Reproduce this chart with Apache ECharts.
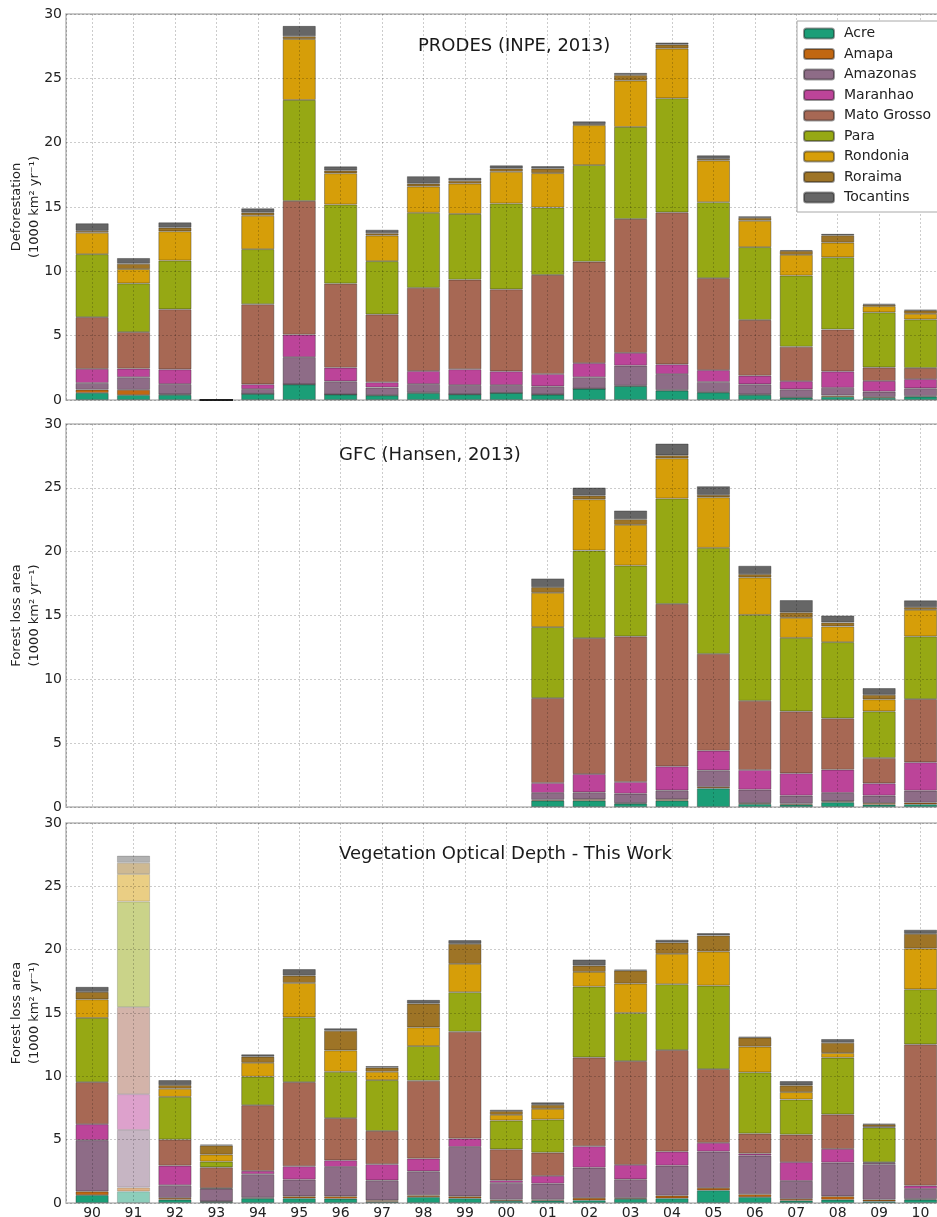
<!DOCTYPE html>
<html>
<head>
<meta charset="utf-8">
<script src="https://cdn.jsdelivr.net/npm/echarts@6/dist/echarts.min.js"></script>
<style>
html, body { margin: 0; padding: 0; background: #fff; }
#chart { width: 937px; height: 1217px; }
</style>
</head>
<body>
<div id="chart"></div>
<script>
var years = ['90','91','92','93','94','95','96','97','98','99','00','01','02','03','04','05','06','07','08','09','10'];
var states = ['Acre','Amapa','Amazonas','Maranhao','Mato Grosso','Para','Rondonia','Roraima','Tocantins'];
var yTicks = [0, 5, 10, 15, 20, 25, 30];

// PRODES (INPE, 2013), 1000 km2/yr
var prodesAcre      = [0.55,0.38,0.40,0,0.48,1.21,0.43,0.36,0.54,0.44,0.55,0.42,0.88,1.08,0.73,0.59,0.40,0.18,0.25,0.17,0.26];
var prodesAmapa     = [0.25,0.41,0.04,0,0,0.01,0,0.02,0.03,0,0,0.01,0,0.03,0.05,0.03,0.03,0.04,0.10,0.07,0.05];
var prodesAmazonas  = [0.52,0.98,0.80,0,0.37,2.11,1.02,0.59,0.67,0.72,0.61,0.63,0.89,1.56,1.23,0.78,0.79,0.61,0.60,0.41,0.60];
var prodesMaranhao  = [1.10,0.67,1.14,0,0.37,1.75,1.06,0.41,1.01,1.23,1.07,0.96,1.09,0.99,0.76,0.92,0.67,0.63,1.27,0.83,0.71];
var prodesMato      = [4.02,2.84,4.67,0,6.22,10.39,6.54,5.27,6.47,6.96,6.37,7.70,7.89,10.41,11.81,7.15,4.33,2.68,3.26,1.05,0.87];
var prodesPara      = [4.89,3.78,3.79,0,4.28,7.85,6.14,4.14,5.83,5.11,6.67,5.24,7.51,7.15,8.87,5.90,5.66,5.53,5.61,4.28,3.77];
var prodesRondonia  = [1.67,1.11,2.27,0,2.60,4.73,2.43,1.99,2.04,2.36,2.47,2.67,3.10,3.60,3.86,3.24,2.05,1.61,1.14,0.48,0.44];
var prodesRoraima   = [0.15,0.42,0.28,0,0.24,0.22,0.21,0.18,0.22,0.22,0.25,0.35,0.08,0.44,0.31,0.13,0.23,0.31,0.57,0.12,0.26];
var prodesTocantins = [0.58,0.44,0.41,0,0.33,0.80,0.32,0.27,0.58,0.22,0.24,0.19,0.21,0.16,0.16,0.27,0.12,0.06,0.11,0.06,0.05];

// GFC (Hansen, 2013): no data before 2001
var gfcAcre      = [null,null,null,null,null,null,null,null,null,null,null,0.50,0.50,0.26,0.50,1.46,0.23,0.18,0.37,0.18,0.21];
var gfcAmapa     = [null,null,null,null,null,null,null,null,null,null,null,0.07,0.10,0.05,0.10,0.11,0.08,0.08,0.07,0.13,0.13];
var gfcAmazonas  = [null,null,null,null,null,null,null,null,null,null,null,0.53,0.55,0.73,0.70,1.30,1.05,0.63,0.66,0.58,0.94];
var gfcMaranhao  = [null,null,null,null,null,null,null,null,null,null,null,0.78,1.43,0.92,1.88,1.54,1.54,1.75,1.82,0.96,2.22];
var gfcMato      = [null,null,null,null,null,null,null,null,null,null,null,6.65,10.65,11.40,12.73,7.59,5.42,4.85,4.02,1.99,4.95];
var gfcPara      = [null,null,null,null,null,null,null,null,null,null,null,5.56,6.86,5.55,8.25,8.30,6.73,5.76,5.97,3.65,4.91];
var gfcRondonia  = [null,null,null,null,null,null,null,null,null,null,null,2.69,4.01,3.19,3.15,3.96,2.93,1.57,1.23,0.94,2.08];
var gfcRoraima   = [null,null,null,null,null,null,null,null,null,null,null,0.44,0.29,0.44,0.24,0.19,0.26,0.42,0.31,0.36,0.21];
var gfcTocantins = [null,null,null,null,null,null,null,null,null,null,null,0.68,0.63,0.68,0.91,0.67,0.65,0.96,0.55,0.52,0.53];

// Vegetation Optical Depth - This Work
var vodAcre      = [0.62,0.92,0.26,0.10,0.37,0.37,0.34,0.10,0.47,0.37,0.16,0.18,0.21,0.32,0.37,1.00,0.47,0.18,0.26,0.13,0.26];
var vodAmapa     = [0.29,0.30,0.14,0.03,0.05,0.16,0.19,0.11,0.14,0.16,0.10,0.08,0.19,0.08,0.21,0.19,0.22,0.14,0.27,0.13,0.06];
var vodAmazonas  = [4.05,4.55,1.00,1.00,1.85,1.32,2.32,1.58,1.89,3.90,1.32,1.27,2.39,1.47,2.37,2.87,3.05,1.42,2.66,2.80,0.79];
var vodMaranhao  = [1.26,2.82,1.55,0.04,0.26,1.05,0.52,1.27,1.01,0.66,0.21,0.61,1.69,1.14,1.11,0.69,0.16,1.48,1.08,0.10,0.26];
var vodMato      = [3.32,6.88,2.06,1.65,5.19,6.64,3.33,2.63,6.14,8.43,2.45,1.84,7.01,8.19,8.01,5.82,1.58,2.18,2.72,0.06,11.15];
var vodPara      = [5.07,8.33,3.37,0.45,2.25,5.12,3.66,4.01,2.74,3.12,2.27,2.61,5.59,3.80,5.20,6.59,4.83,2.77,4.48,2.74,4.35];
var vodRondonia  = [1.47,2.17,0.64,0.55,1.10,2.71,1.69,0.66,1.48,2.24,0.45,0.84,1.16,2.32,2.40,2.69,2.03,0.58,0.37,0.05,3.22];
var vodRoraima   = [0.58,0.89,0.29,0.72,0.48,0.58,1.55,0.32,1.87,1.58,0.29,0.32,0.50,1.03,0.89,1.27,0.71,0.53,0.81,0.19,1.16];
var vodTocantins = [0.40,0.56,0.39,0.07,0.18,0.51,0.19,0.13,0.29,0.29,0.11,0.19,0.48,0.08,0.22,0.18,0.08,0.34,0.29,0.05,0.32];

var colors = ['#1b9e77','#c16711','#8e6c87','#bc4499','#a76854','#96a814','#d69e09','#9e7426','#666666'];
var FONT = 'DejaVu Sans';

var panels = [
  { title: 'PRODES (INPE, 2013)', titleLeft: 418, titleTop: 37, top: 14, height: 386,
    yName: 'Deforestation\n(1000 km\u00b2 yr\u207b\u00b9)',
    data: [prodesAcre, prodesAmapa, prodesAmazonas, prodesMaranhao, prodesMato, prodesPara, prodesRondonia, prodesRoraima, prodesTocantins] },
  { title: 'GFC (Hansen, 2013)', titleLeft: 339, titleTop: 446, top: 424, height: 383,
    yName: 'Forest loss area\n(1000 km\u00b2 yr\u207b\u00b9)',
    data: [gfcAcre, gfcAmapa, gfcAmazonas, gfcMaranhao, gfcMato, gfcPara, gfcRondonia, gfcRoraima, gfcTocantins] },
  { title: 'Vegetation Optical Depth - This Work', titleLeft: 339, titleTop: 845, top: 823, height: 380,
    yName: 'Forest loss area\n(1000 km\u00b2 yr\u207b\u00b9)', faded: 1,
    data: [vodAcre, vodAmapa, vodAmazonas, vodMaranhao, vodMato, vodPara, vodRondonia, vodRoraima, vodTocantins] }
];

var chart = echarts.init(document.getElementById('chart'));

var grids = [], xAxes = [], yAxes = [], titles = [], series = [];
panels.forEach(function (p, pi) {
  grids.push({ left: 66, right: -3, top: p.top, height: p.height, show: true,
               outerBoundsMode: 'none', containLabel: false,
               borderColor: '#b8b8b8', borderWidth: 1.5, backgroundColor: 'transparent' });
  titles.push({ text: p.title, left: p.titleLeft, top: p.titleTop, padding: 0,
                textStyle: { fontFamily: FONT, fontSize: 18, fontWeight: 'normal', color: '#1a1a1a' } });
  xAxes.push({
    type: 'value', gridIndex: pi, min: -0.63, max: 20.47, splitNumber: 21, z: 3,
    axisLine: { show: false }, axisTick: { show: false },
    axisLabel: {
      show: pi === 2, margin: 3, fontFamily: FONT, fontSize: 14, color: '#222',
      showMinLabel: false, showMaxLabel: false,
      formatter: function (v) { return (Math.abs(v - Math.round(v)) < 1e-6 && years[Math.round(v)]) ? years[Math.round(v)] : ''; }
    },
    splitLine: { show: true, lineStyle: { color: 'rgba(0,0,0,0.2)', width: 1, type: [2, 2] } }
  });
  yAxes.push({
    type: 'value', gridIndex: pi, min: yTicks[0], max: yTicks[yTicks.length - 1], interval: 5, z: 3,
    axisLine: { show: false }, axisTick: { show: false },
    axisLabel: { margin: 4, fontFamily: FONT, fontSize: 14, color: '#222' },
    splitLine: { show: true, lineStyle: { color: 'rgba(0,0,0,0.2)', width: 1, type: [2, 2] } },
    name: p.yName, nameLocation: 'middle', nameRotate: 90, nameGap: 22, nameMoveOverlap: false,
    nameTextStyle: { fontFamily: FONT, fontSize: 13, lineHeight: 18, color: '#222', align: 'center' }
  });
  p.data.forEach(function (vals, si) {
    series.push({
      type: 'bar', name: states[si], stack: 'panel' + pi,
      xAxisIndex: pi, yAxisIndex: pi, barWidth: 33,
      encode: { x: 1, y: 0 },
      itemStyle: { color: colors[si], borderColor: 'rgba(30,30,30,0.45)', borderWidth: 0.8 },
      data: vals.map(function (v, i) {
        var item = { value: [v, i] };
        if (p.faded === i) item.itemStyle = { opacity: 0.5 };
        return item;
      })
    });
  });
});

chart.setOption({
  animation: false,
  backgroundColor: '#fff',
  textStyle: { fontFamily: FONT },
  title: titles,
  grid: grids,
  xAxis: xAxes,
  yAxis: yAxes,
  legend: {
    data: states, orient: 'vertical', left: 797, top: 21, z: 10,
    padding: [5, 12, 7, 6], itemGap: 5.5, itemWidth: 30, itemHeight: 10,
    backgroundColor: '#fff', borderColor: '#a8a8a8', borderWidth: 1, borderRadius: 0,
    textStyle: { fontFamily: FONT, fontSize: 14, lineHeight: 15, color: '#222', padding: [0, 0, 0, 5] }
  },
  series: series
});
</script>
</body>
</html>
